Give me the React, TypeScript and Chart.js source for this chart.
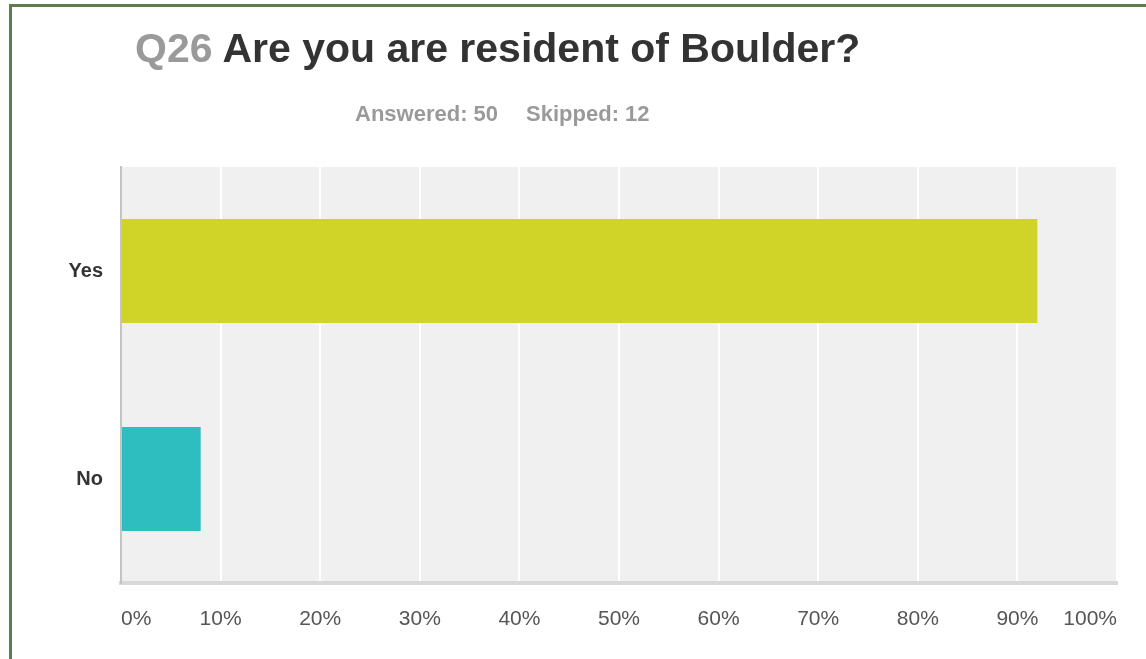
import React, { useEffect, useRef } from "react";
import { Chart, registerables } from "chart.js";

Chart.register(...registerables);

const categories = ["Yes", "No"];
const percentValues = [92, 8];
const barColors = ["#d0d328", "#2fbec0"];
const titleNumber = "Q26";
const titleText = "Are you are resident of Boulder?";
const answeredText = "Answered: 50";
const skippedText = "Skipped: 12";

const FONT = "'Liberation Sans', Arial, Helvetica, sans-serif";

const plotBg = {
  id: "plotBg",
  beforeDraw(chart: any) {
    const { ctx, chartArea } = chart;
    ctx.save();
    ctx.fillStyle = "#f0f0f0";
    ctx.fillRect(chartArea.left, chartArea.top, chartArea.right - chartArea.left, chartArea.bottom - chartArea.top);
    ctx.restore();
  },
};

export default function App() {
  const ref = useRef<HTMLCanvasElement | null>(null);

  useEffect(() => {
    if (!ref.current) return;
    const chart = new Chart(ref.current, {
      type: "bar",
      data: {
        labels: categories,
        datasets: [
          {
            data: percentValues,
            backgroundColor: barColors,
            borderWidth: 0,
            barPercentage: 0.5,
            categoryPercentage: 1,
          },
        ],
      },
      options: {
        indexAxis: "y",
        animation: false,
        responsive: false,
        maintainAspectRatio: false,
        layout: { padding: { top: 167, right: 29, left: 0, bottom: 0 } },
        plugins: {
          legend: { display: false },
          tooltip: { enabled: false },
          title: { display: false },
        },
        scales: {
          x: {
            min: 0,
            max: 100,
            afterFit: (s: any) => {
              s.height = 76;
            },
            ticks: {
              stepSize: 10,
              callback: (v: any) => v + "%",
              color: "#555",
              font: { family: FONT, size: 21 },
              padding: 24,
              align: "inner",
              maxRotation: 0,
              autoSkip: false,
            },
            grid: { color: "#ffffff", lineWidth: 2, drawTicks: false },
            border: { color: "#d8d8d8", width: 4 },
          },
          y: {
            afterFit: (s: any) => {
              s.width = 121;
            },
            ticks: {
              color: "#333",
              font: { family: FONT, size: 20, weight: "bold" },
              padding: 18,
            },
            grid: { display: false, drawTicks: false },
            border: { color: "#c4c4c4", width: 2 },
          },
        },
      },
      plugins: [plotBg],
    });
    return () => chart.destroy();
  }, []);

  return (
    <div style={{ position: "fixed", left: 0, top: 0, width: 1146, height: 659, background: "#fff", overflow: "hidden" }}>
      <div style={{ position: "absolute", left: 9, top: 4, width: 3, height: 655, background: "#5e7d4c" }} />
      <div style={{ position: "absolute", left: 9, top: 4, width: 1137, height: 3, background: "#5e7d4c" }} />
      <canvas ref={ref} width={1146} height={659} style={{ position: "absolute", left: 0, top: 0 }} />
      <div
        style={{
          position: "absolute",
          left: 135,
          top: 28,
          fontFamily: FONT,
          fontSize: 41,
          lineHeight: "41px",
          fontWeight: "bold",
          whiteSpace: "nowrap",
          color: "#333",
        }}
      >
        <span style={{ color: "#9a9a9a" }}>{titleNumber}</span> {titleText}
      </div>
      <div
        style={{
          position: "absolute",
          left: 355,
          top: 103,
          fontFamily: FONT,
          fontSize: 22,
          lineHeight: "22px",
          fontWeight: "bold",
          whiteSpace: "nowrap",
          color: "#9a9a9a",
        }}
      >
        <span>{answeredText}</span>
        <span style={{ marginLeft: 28 }}>{skippedText}</span>
      </div>
    </div>
  );
}
